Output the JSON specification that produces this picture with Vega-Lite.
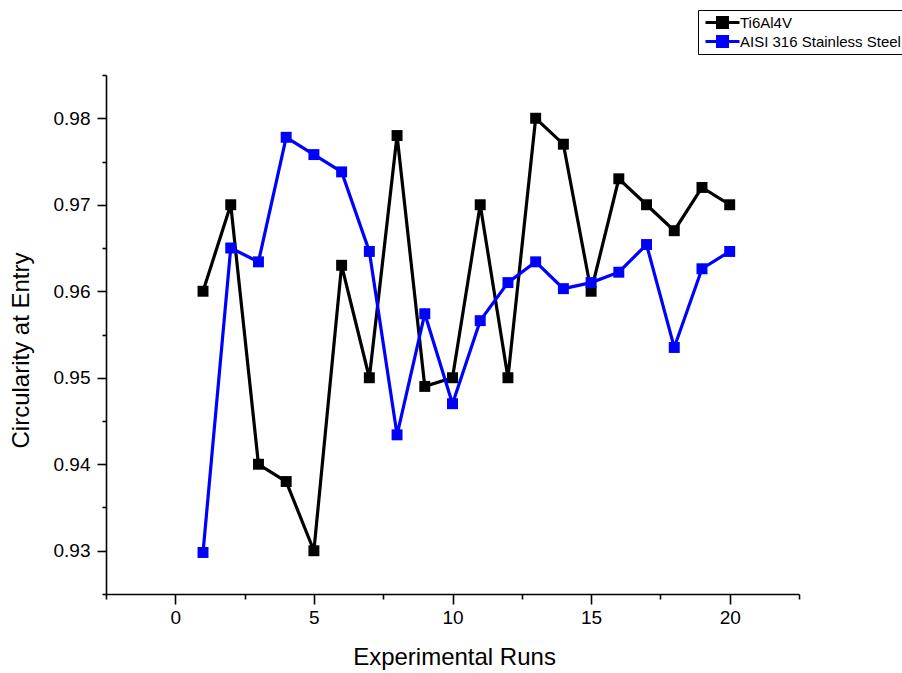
{
  "$schema": "https://vega.github.io/schema/vega-lite/v6.json",
  "width": 693,
  "height": 519,
  "autosize": "none",
  "padding": {"left": 106, "top": 75, "right": 103, "bottom": 79},
  "background": "white",
  "config": {
    "font": "Liberation Sans",
    "view": {"stroke": null},
    "axis": {"grid": false, "domainColor": "black", "domainWidth": 1.6, "tickColor": "black", "tickWidth": 1.6, "labelColor": "black", "titleColor": "black", "labelFont": "Liberation Sans", "titleFont": "Liberation Sans", "titleFontWeight": "normal"}
  },
  "data": {"values": [
    {"run": 1, "series": "Ti6Al4V", "value": 0.960},
    {"run": 2, "series": "Ti6Al4V", "value": 0.970},
    {"run": 3, "series": "Ti6Al4V", "value": 0.940},
    {"run": 4, "series": "Ti6Al4V", "value": 0.938},
    {"run": 5, "series": "Ti6Al4V", "value": 0.930},
    {"run": 6, "series": "Ti6Al4V", "value": 0.963},
    {"run": 7, "series": "Ti6Al4V", "value": 0.950},
    {"run": 8, "series": "Ti6Al4V", "value": 0.978},
    {"run": 9, "series": "Ti6Al4V", "value": 0.949},
    {"run": 10, "series": "Ti6Al4V", "value": 0.950},
    {"run": 11, "series": "Ti6Al4V", "value": 0.970},
    {"run": 12, "series": "Ti6Al4V", "value": 0.950},
    {"run": 13, "series": "Ti6Al4V", "value": 0.980},
    {"run": 14, "series": "Ti6Al4V", "value": 0.977},
    {"run": 15, "series": "Ti6Al4V", "value": 0.960},
    {"run": 16, "series": "Ti6Al4V", "value": 0.973},
    {"run": 17, "series": "Ti6Al4V", "value": 0.970},
    {"run": 18, "series": "Ti6Al4V", "value": 0.967},
    {"run": 19, "series": "Ti6Al4V", "value": 0.972},
    {"run": 20, "series": "Ti6Al4V", "value": 0.970},
    {"run": 1, "series": "AISI 316 Stainless Steel", "value": 0.9298},
    {"run": 2, "series": "AISI 316 Stainless Steel", "value": 0.9650},
    {"run": 3, "series": "AISI 316 Stainless Steel", "value": 0.9634},
    {"run": 4, "series": "AISI 316 Stainless Steel", "value": 0.9778},
    {"run": 5, "series": "AISI 316 Stainless Steel", "value": 0.9758},
    {"run": 6, "series": "AISI 316 Stainless Steel", "value": 0.9738},
    {"run": 7, "series": "AISI 316 Stainless Steel", "value": 0.9646},
    {"run": 8, "series": "AISI 316 Stainless Steel", "value": 0.9434},
    {"run": 9, "series": "AISI 316 Stainless Steel", "value": 0.9574},
    {"run": 10, "series": "AISI 316 Stainless Steel", "value": 0.9470},
    {"run": 11, "series": "AISI 316 Stainless Steel", "value": 0.9566},
    {"run": 12, "series": "AISI 316 Stainless Steel", "value": 0.9610},
    {"run": 13, "series": "AISI 316 Stainless Steel", "value": 0.9634},
    {"run": 14, "series": "AISI 316 Stainless Steel", "value": 0.9603},
    {"run": 15, "series": "AISI 316 Stainless Steel", "value": 0.9610},
    {"run": 16, "series": "AISI 316 Stainless Steel", "value": 0.9622},
    {"run": 17, "series": "AISI 316 Stainless Steel", "value": 0.9654},
    {"run": 18, "series": "AISI 316 Stainless Steel", "value": 0.9535},
    {"run": 19, "series": "AISI 316 Stainless Steel", "value": 0.9626},
    {"run": 20, "series": "AISI 316 Stainless Steel", "value": 0.9646}
  ]},
  "encoding": {
    "x": {
      "field": "run", "type": "quantitative",
      "scale": {"domain": [-2.5, 22.5], "nice": false, "zero": false},
      "axis": {
        "title": "Experimental Runs",
        "titleFontSize": 24,
        "titleX": 348,
        "titleY": 63,
        "titleBaseline": "middle",
        "values": [-2.5, 0, 2.5, 5, 7.5, 10, 12.5, 15, 17.5, 20, 22.5],
        "labelExpr": "datum.value % 5 === 0 ? format(datum.value, 'd') : ''",
        "labelFontSize": 19,
        "labelPadding": 4,
        "tickSize": {"condition": {"test": "datum.value % 5 === 0", "value": 10}, "value": 5}
      }
    },
    "y": {
      "field": "value", "type": "quantitative",
      "scale": {"domain": [0.925, 0.985], "nice": false, "zero": false},
      "axis": {
        "title": "Circularity at Entry",
        "titleFontSize": 24,
        "titleX": -85,
        "titleY": 275,
        "titleBaseline": "middle",
        "values": [0.925, 0.93, 0.935, 0.94, 0.945, 0.95, 0.955, 0.96, 0.965, 0.97, 0.975, 0.98, 0.985],
        "labelExpr": "abs(datum.value * 100 - round(datum.value * 100)) < 0.01 ? format(datum.value, '.2f') : ''",
        "labelFontSize": 19,
        "labelPadding": 7,
        "tickSize": {"condition": {"test": "abs(datum.value * 100 - round(datum.value * 100)) < 0.01", "value": 9}, "value": 4}
      }
    },
    "color": {
      "field": "series", "type": "nominal",
      "scale": {"domain": ["Ti6Al4V", "AISI 316 Stainless Steel"], "range": ["#000000", "#0000FF"]},
      "legend": {
        "title": null,
        "orient": "none",
        "legendX": 592,
        "legendY": -65,
        "direction": "vertical",
        "strokeColor": "black",
        "fillColor": "white",
        "padding": 3,
        "labelFontSize": 15,
        "labelColor": "black",
        "labelFont": "Liberation Sans",
        "labelLimit": 400,
        "rowPadding": 0,
        "clipHeight": 19,
        "symbolType": "M-3.4,0H3.4M-1,-1H1V1H-1Z",
        "symbolSize": 100,
        "symbolStrokeWidth": 3,
        "symbolOffset": 14,
        "labelOffset": 10,
        "encode": {"symbols": {"update": {"fill": {"scale": "color", "field": "value"}, "stroke": {"scale": "color", "field": "value"}, "opacity": {"value": 1}}}}
      }
    }
  },
  "layer": [
    {
      "transform": [{"filter": "datum.series === 'Ti6Al4V'"}],
      "mark": {"type": "line", "strokeWidth": 3.2, "point": {"shape": "square", "size": 120, "filled": true, "opacity": 1}}
    },
    {
      "transform": [{"filter": "datum.series === 'AISI 316 Stainless Steel'"}],
      "mark": {"type": "line", "strokeWidth": 3.2, "point": {"shape": "square", "size": 120, "filled": true, "opacity": 1}}
    }
  ]
}
